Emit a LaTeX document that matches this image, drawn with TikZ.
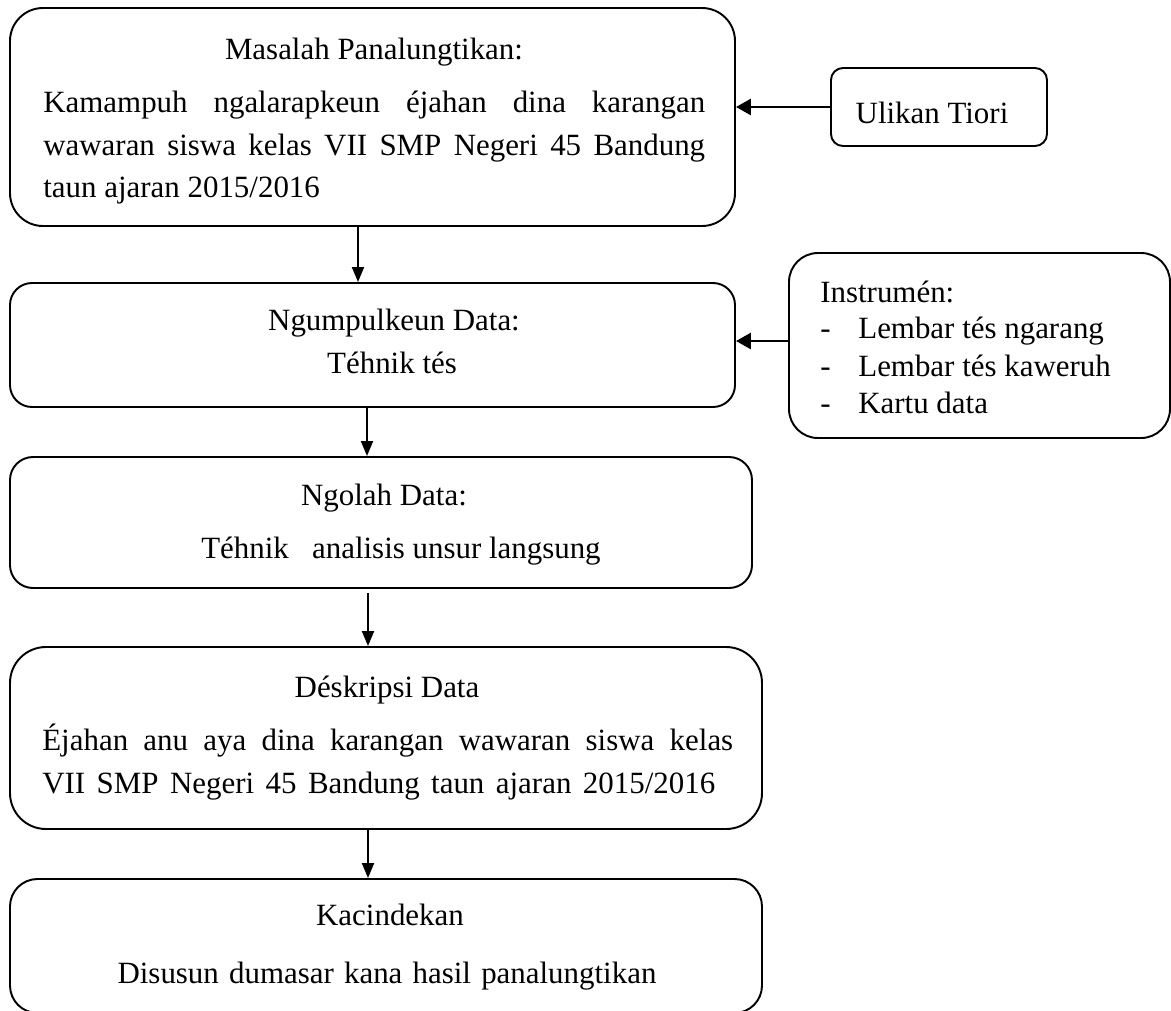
\documentclass[tikz,border=0pt]{standalone}
\usepackage{fontspec}
\setmainfont{Liberation Serif}
\usetikzlibrary{fit,arrows.meta}
\newcommand{\fillline}[2]{\makebox[#1][s]{#2}}

\begin{document}
\begin{tikzpicture}[x=0.02cm,y=-0.02cm,
  box/.style={draw,line width=1.1pt,inner sep=0pt},
  txt/.style={anchor=base,inner sep=0pt,font=\fontsize{17.6}{20}\selectfont},
  flow/.style={-{Triangle[length=0.3cm,width=0.24cm]},line width=1.1pt},
  side/.style={-{Triangle[length=0.3cm,width=0.32cm]},line width=1.7pt}]
\useasboundingbox (0,0) rectangle (1171,1011);
\node[box,rounded corners=0.66cm,fit={(10,8) (735,226)}] (masalah) {};
\node[box,rounded corners=0.24cm,fit={(831,68) (1047,146)}] (ulikan) {};
\node[box,rounded corners=0.44cm,fit={(10,283) (735,407)}] (ngumpul) {};
\node[box,rounded corners=0.58cm,fit={(789,253) (1170,438)}] (instrumen) {};
\node[box,rounded corners=0.46cm,fit={(10,457) (752,588)}] (ngolah) {};
\node[box,rounded corners=0.72cm,fit={(10,647) (762,829)}] (deskripsi) {};
\node[box,rounded corners=0.55cm,fit={(10,879) (762,1013)}] (kacindekan) {};

\node[txt] (masalahT) at (374,59) {Masalah Panalungtikan:};
\node[txt,anchor=base west] (masalahA) at (43,112) {\fillline{13.24cm}{Kamampuh ngalarapkeun éjahan dina karangan}};
\node[txt,anchor=base west] (masalahB) at (43,155) {\fillline{13.24cm}{wawaran siswa kelas VII SMP Negeri 45 Bandung}};
\node[txt,anchor=base west] (masalahC) at (43,197) {taun ajaran 2015/2016};
\node[txt] (ulikanT) at (932,123) {Ulikan Tiori};
\node[txt] (ngumpulT) at (394,330) {Ngumpulkeun Data:};
\node[txt] (ngumpulA) at (392,373) {Téhnik tés};
\node[txt,anchor=base west] (instrumenT) at (820,302) {Instrumén:};
\foreach \y/\t [count=\i] in {338/Lembar tés ngarang,376/Lembar tés kaweruh,413/Kartu data}{
  \node[txt,anchor=base west] (dash\i) at (820,\y) {-};
  \node[txt,anchor=base west] (instrumen\i) at (858,\y) {\t};
}
\node[txt] (ngolahT) at (384,505) {Ngolah Data:};
\node[txt] (ngolahA) at (401,558) {Téhnik \enspace analisis unsur langsung};
\node[txt] (deskripsiT) at (387,697) {Déskripsi Data};
\node[txt,anchor=base west] (deskripsiA) at (42,750) {\fillline{13.82cm}{Éjahan anu aya dina karangan wawaran siswa kelas}};
\node[txt,anchor=base west] (deskripsiB) at (42,793) {\fillline{13.46cm}{VII SMP Negeri 45 Bandung taun ajaran 2015/2016}};
\node[txt] (kacindekanT) at (390,925) {Kacindekan};
\node[txt] (kacindekanA) at (387,983) {\fillline{10.78cm}{Disusun dumasar kana hasil panalungtikan}};

\draw[flow] (masalah.south -| 358,0) -- (ngumpul.north -| 358,0);
\draw[flow] (ngumpul.south -| 367,0) -- (ngolah.north -| 367,0);
\draw[flow,shorten <=0.08cm] (ngolah.south -| 368,0) -- (deskripsi.north -| 368,0);
\draw[flow] (deskripsi.south -| 368,0) -- (kacindekan.north -| 368,0);
\draw[side] (ulikan.west) -- (masalah.east |- ulikan.west);
\draw[side] (instrumen.west |- 0,341) -- (ngumpul.east |- 0,341);
\end{tikzpicture}
\end{document}
